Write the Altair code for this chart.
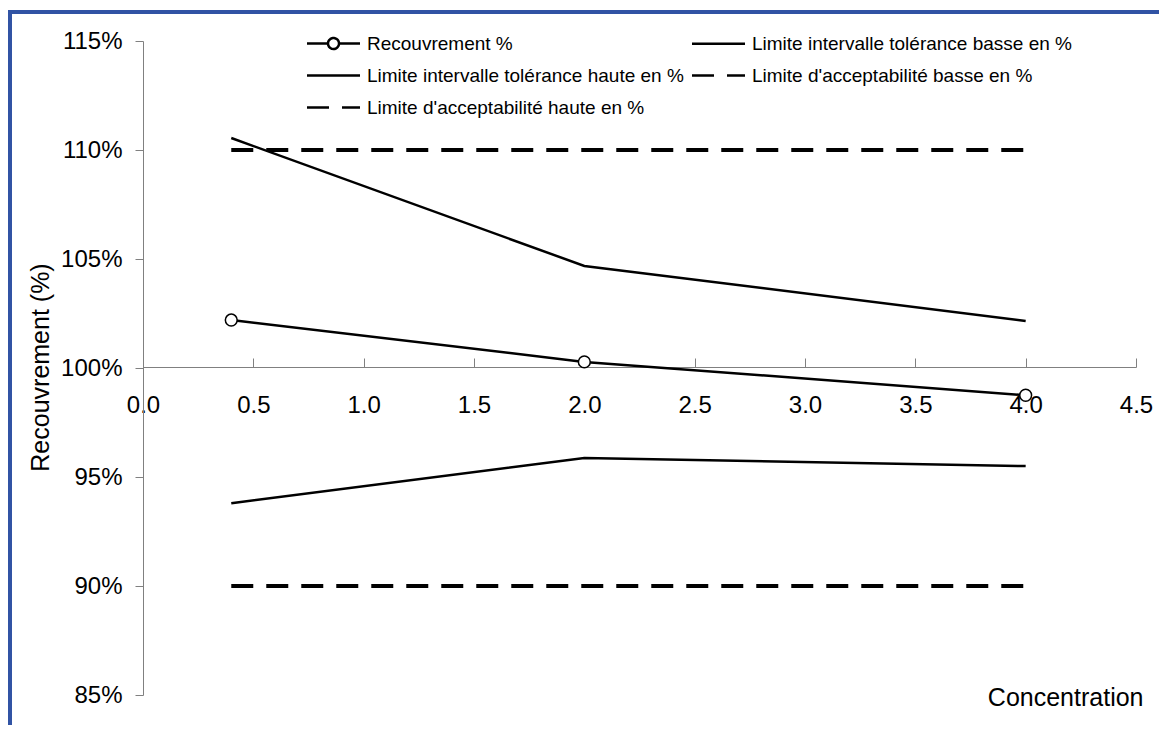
import altair as alt
import pandas as pd

# ---- data ----
conc = [0.4, 2.0, 4.0]
recouvrement = [1.022, 1.0028, 0.9875]
tol_basse = [0.938, 0.9587, 0.955]
tol_haute = [1.1055, 1.0468, 1.0216]
acc_basse = [0.90, 0.90, 0.90]
acc_haute = [1.10, 1.10, 1.10]

# legend order (column-major in a 2-column legend)
series_names = [
    "Recouvrement %",
    "Limite intervalle tolérance haute en %",
    "Limite d'acceptabilité haute en %",
    "Limite intervalle tolérance basse en %",
    "Limite d'acceptabilité basse en %",
]
series_values = [recouvrement, tol_haute, acc_haute, tol_basse, acc_basse]
series_dashed = [False, False, True, False, True]

x_ticks = [0.0, 0.5, 1.0, 1.5, 2.0, 2.5, 3.0, 3.5, 4.0, 4.5]
y_ticks = [0.85, 0.90, 0.95, 1.00, 1.05, 1.10, 1.15]

rows = []
for name, vals, dashed in zip(series_names, series_values, series_dashed):
    for c, v in zip(conc, vals):
        rows.append({"serie": name, "conc": c, "val": v, "dashed": dashed})
df = pd.DataFrame(rows)

FONT = "Liberation Sans"
GREY = "#808080"
W, H = 993, 654
Y100 = 326
DASH = [22, 13]

LINE_PATH = "M-5.3,0H5.3"
CIRCLE_LINE_PATH = "M-5.3,0H-1.1M1.1,0H5.3M-1.1,0A1.1,1.1,0,1,1,1.1,0A1.1,1.1,0,1,1,-1.1,0"

xscale = alt.Scale(domain=[0, 4.5], nice=False, zero=False)
yscale = alt.Scale(domain=[0.85, 1.15], nice=False, zero=False)

y_axis = alt.Axis(
    values=y_ticks,
    format=".0%",
    grid=False,
    domainColor=GREY,
    tickColor=GREY,
    tickSize=8,
    labelPadding=13,
    labelFont=FONT,
    labelFontSize=24,
    labelColor="black",
    title="Recouvrement (%)",
    titleFont=FONT,
    titleFontSize=25,
    titleFontWeight="normal",
    titleColor="black",
    titleX=-103,
    titleY=Y100,
    titleAngle=270,
    titleAlign="center",
    titleBaseline="middle",
)
Y = alt.Y("val:Q", scale=yscale, axis=y_axis)

base = alt.Chart(df)

solid = base.transform_filter("!datum.dashed").mark_line(color="black", strokeWidth=2.5).encode(
    x=alt.X(
        "conc:Q",
        scale=xscale,
        axis=alt.Axis(
            orient="top",
            offset=-Y100,
            values=x_ticks,
            labels=False,
            title=None,
            grid=False,
            domainColor=GREY,
            tickColor=GREY,
            tickSize=9,
        ),
    ),
    y=Y,
    detail="serie:N",
)

dashed = base.transform_filter("datum.dashed").mark_line(
    color="black", strokeWidth=4, strokeDash=DASH
).encode(
    x=alt.X("conc:Q", scale=xscale, axis=None),
    y=Y,
    detail="serie:N",
)

legend = alt.Legend(
    title=None,
    orient="none",
    legendX=181,
    legendY=-7,
    columns=2,
    columnPadding=3,
    rowPadding=12,
    labelFont=FONT,
    labelFontSize=19,
    labelColor="black",
    labelLimit=500,
    labelOffset=24,
    symbolSize=100,
    symbolStrokeColor="black",
    symbolOpacity=1,
)

# legend-only layer: no rows pass the filter, the legend comes from the scale domains
legend_layer = base.transform_filter("false").mark_point(
    filled=False, color="black", size=100, opacity=1
).encode(
    x=alt.X("conc:Q", scale=xscale, axis=None),
    y=Y,
    shape=alt.Shape(
        "serie:N",
        scale=alt.Scale(
            domain=series_names,
            range=[CIRCLE_LINE_PATH, LINE_PATH, LINE_PATH, LINE_PATH, LINE_PATH],
        ),
        legend=legend,
    ),
    strokeDash=alt.StrokeDash(
        "serie:N",
        scale=alt.Scale(domain=series_names, range=[[1, 0], [1, 0], DASH, [1, 0], DASH]),
        legend=legend,
    ),
    strokeWidth=alt.StrokeWidth(
        "serie:N",
        scale=alt.Scale(domain=series_names, range=[2.5, 2.5, 4, 2.5, 4]),
        legend=legend,
    ),
)

points = base.transform_filter(alt.datum.serie == "Recouvrement %").mark_point(
    shape="circle", filled=True, fill="white", stroke="black", strokeWidth=1.5, size=140, opacity=1
).encode(
    x=alt.X(
        "conc:Q",
        scale=xscale,
        axis=alt.Axis(
            orient="bottom",
            offset=-(H - Y100),
            values=x_ticks,
            format=".1f",
            domain=False,
            ticks=False,
            tickSize=0,
            grid=False,
            labelFlush=False,
            labelPadding=26,
            labelFont=FONT,
            labelFontSize=24,
            labelColor="black",
            title="Concentration",
            titleFont=FONT,
            titleFontSize=25,
            titleFontWeight="normal",
            titleColor="black",
            titleX=1000,
            titleY=330,
            titleAlign="right",
            titleAnchor="end",
            titleBaseline="middle",
        ),
    ),
    y=Y,
)

border = alt.Chart(alt.Data(values=[{}])).mark_rect(
    filled=False, stroke="#3153A4", strokeWidth=4
).encode(
    x=alt.value(-133), x2=alt.value(1100), y=alt.value(-29), y2=alt.value(760)
)

chart = (
    alt.layer(border, solid, dashed, legend_layer, points)
    .resolve_axis(x="independent")
    .properties(
        width=W,
        height=H,
        autosize=alt.AutoSizeParams(type="none"),
        padding={"left": 135, "top": 33, "right": 23, "bottom": 30},
        background="white",
    )
    .configure_view(stroke=None)
)

chart.save("out.html", embed_options={"renderer": "svg", "actions": False})
